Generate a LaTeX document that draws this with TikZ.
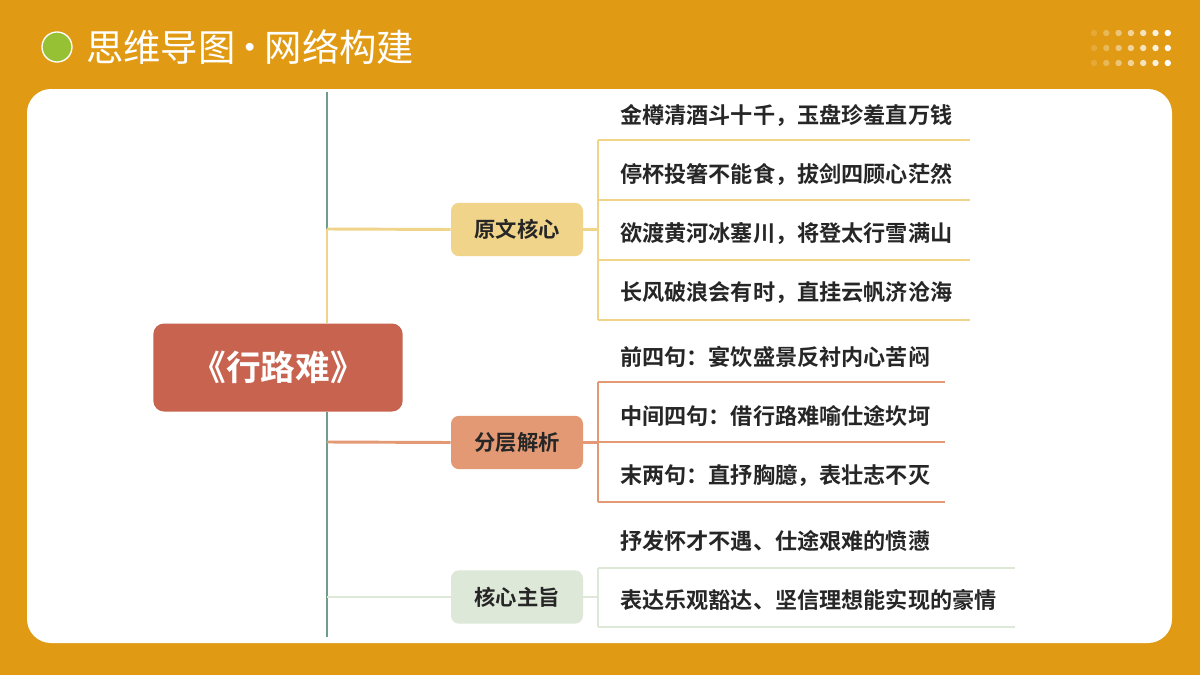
\documentclass[tikz,border=0pt]{standalone}
\usepackage{fontspec}
\setmainfont{Noto Sans CJK SC}
\newfontfamily\cjkb{Noto Sans CJK SC Bold}
\begin{document}
\begin{tikzpicture}[x=0.75pt,y=-0.75pt,
  leaf/.style={anchor=west,font=\cjkb\fontsize{16.6}{18}\selectfont,text=black!85,inner sep=0pt},
  branch/.style={rounded corners=6pt,minimum width=99pt,minimum height=40pt,font=\cjkb\fontsize{16}{17}\selectfont,text=black!85},
  ln/.style={line width=2.2pt}]
\definecolor{bg}{HTML}{E09A14}
\definecolor{ylw}{HTML}{F0D48A}
\definecolor{org}{HTML}{E39A74}
\definecolor{lgr}{HTML}{DDE8D8}
\definecolor{trunk}{HTML}{6E9E8A}
\definecolor{cen}{HTML}{C8634F}
\definecolor{dotg}{HTML}{97C135}
\fill[bg] (0,0) rectangle (1200,675);
\useasboundingbox (0,0) rectangle (1200,675);
\fill[white] [rounded corners=18pt] (27,89) rectangle (1172,643);
% title
\node[circle,fill=dotg,draw=white,line width=1pt,minimum size=22.5pt,inner sep=0pt] (dot) at (57,47) {};
\node[anchor=west,text=white,font=\fontsize{28}{30}\selectfont,inner sep=0pt] (title) at (86,47) {思维导图{\kern-3pt}·{\kern-3pt}网络构建};
% dots
\foreach \i in {0,...,6}{
  \pgfmathsetmacro\op{0.15+0.85*\i/6}
  \foreach \j in {33,48,63}{
    \fill[white,opacity=\op] (1094+12.3*\i,\j) circle (3.2);
  }}
% trunk
\coordinate (tt) at (327,92);
\coordinate (tb) at (327,637);
\coordinate (t1) at (327,229);
\coordinate (t2) at (327,442);
\coordinate (t3) at (327,597);
\coordinate (tc) at (327,323);
\draw[ln,trunk] (tt) -- (t1);
\draw[ln,ylw] (t1) -- (tc);
\draw[ln,trunk] (327,412) -- (tb);
% center
\node[fill=cen,rounded corners=8pt,minimum width=187pt,minimum height=66pt,text=white,font=\cjkb\fontsize{26}{28}\selectfont] (c) at (278,367.5) {《行路难》};
% branches
\node[branch,fill=ylw] (b1) at (517,229.5) {原文核心};
\node[branch,fill=org] (b2) at (517,442.5) {分层解析};
\node[branch,fill=lgr] (b3) at (517,597) {核心主旨};
\draw[ln,ylw] (t1) -- (b1.west);
\draw[ln,org] (t2) -- (b2.west);
\draw[ln,lgr] (t3) -- (b3.west);
% group 1
\coordinate (g1a) at (598,140); \coordinate (g1b) at (598,320);
\draw[ln,ylw] (b1.east) -- (598,229.5);
\draw[ln,ylw] (g1a) -- (g1b);
\foreach \y in {140,200,260,320} \draw[ln,ylw] (598,\y) -- (970,\y);
\node[leaf] (l11) at (620,115) {金樽清酒斗十千，玉盘珍羞直万钱};
\node[leaf] (l12) at (620,174) {停杯投箸不能食，拔剑四顾心茫然};
\node[leaf] (l13) at (620,233) {欲渡黄河冰塞川，将登太行雪满山};
\node[leaf] (l14) at (620,292) {长风破浪会有时，直挂云帆济沧海};
% group 2
\draw[ln,org] (b2.east) -- (598,442.5);
\draw[ln,org] (598,382) -- (598,502);
\foreach \y in {382,442,502} \draw[ln,org] (598,\y) -- (945,\y);
\node[leaf] (l21) at (620,357) {前四句：宴饮盛景反衬内心苦闷};
\node[leaf] (l22) at (620,416) {中间四句：借行路难喻仕途坎坷};
\node[leaf] (l23) at (620,476) {末两句：直抒胸臆，表壮志不灭};
% group 3
\draw[ln,lgr] (b3.east) -- (598,597);
\draw[ln,lgr] (598,568) -- (598,627);
\foreach \y in {568,627} \draw[ln,lgr] (598,\y) -- (1015,\y);
\node[leaf] (l31) at (620,541) {抒发怀才不遇、仕途艰难的愤懑};
\node[leaf] (l32) at (620,600) {表达乐观豁达、坚信理想能实现的豪情};
\end{tikzpicture}
\end{document}
